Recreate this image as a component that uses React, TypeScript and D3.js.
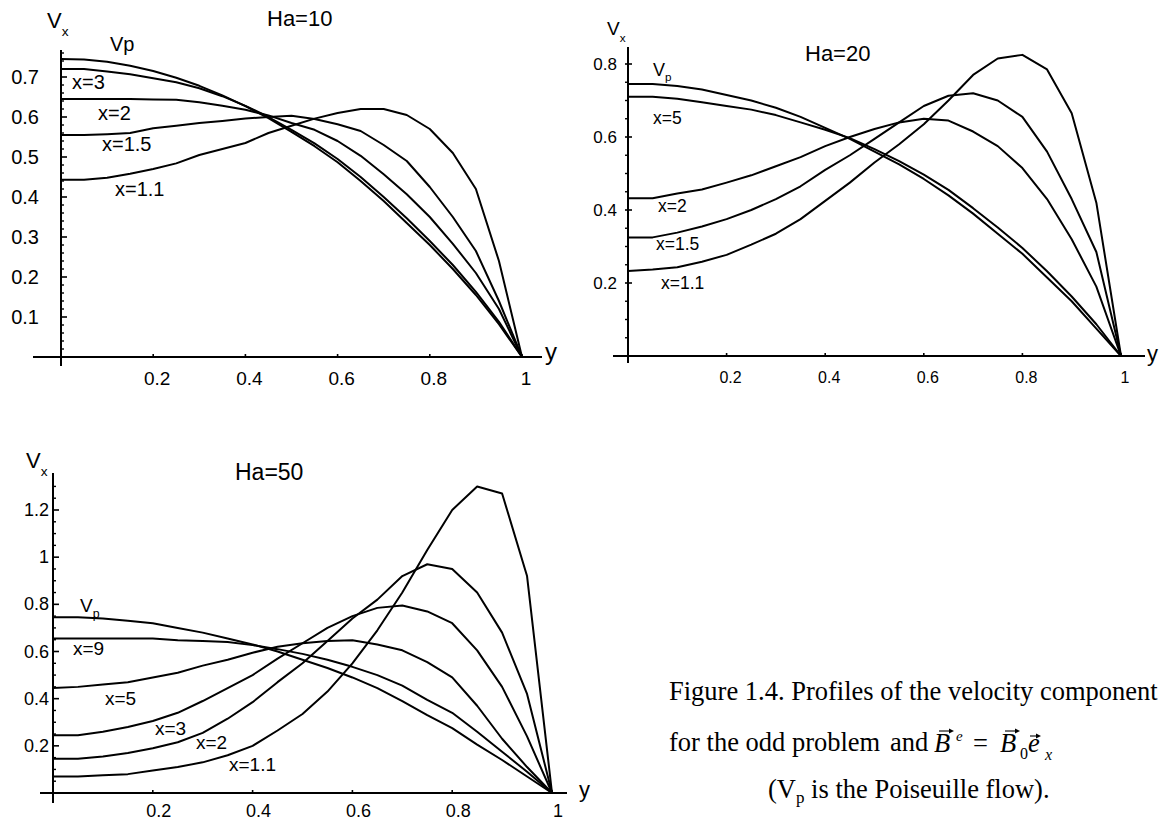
import React from "react";
import * as d3 from "d3";

// shared abscissa grid (y coordinate across the channel)
const yGrid = [0, 0.05, 0.1, 0.15, 0.2, 0.25, 0.3, 0.35, 0.4, 0.45, 0.5, 0.55, 0.6, 0.65, 0.7, 0.75, 0.8, 0.85, 0.9, 0.95, 1];

// ---- Ha = 10 ----
const ha10Vp = [0.745, 0.744, 0.738, 0.728, 0.715, 0.698, 0.678, 0.654, 0.627, 0.597, 0.563, 0.527, 0.487, 0.44, 0.39, 0.335, 0.28, 0.22, 0.155, 0.082, 0];
const ha10X3 = [0.72, 0.72, 0.714, 0.707, 0.697, 0.687, 0.672, 0.652, 0.628, 0.6, 0.568, 0.534, 0.495, 0.45, 0.4, 0.347, 0.29, 0.23, 0.163, 0.088, 0];
const ha10X2 = [0.645, 0.645, 0.645, 0.645, 0.644, 0.643, 0.637, 0.628, 0.618, 0.604, 0.585, 0.568, 0.54, 0.503, 0.457, 0.407, 0.35, 0.283, 0.21, 0.12, 0];
const ha10X15 = [0.555, 0.555, 0.557, 0.56, 0.572, 0.578, 0.585, 0.59, 0.596, 0.6, 0.603, 0.595, 0.582, 0.565, 0.53, 0.49, 0.425, 0.35, 0.265, 0.14, 0];
const ha10X11 = [0.443, 0.443, 0.448, 0.458, 0.47, 0.484, 0.505, 0.52, 0.535, 0.56, 0.578, 0.596, 0.61, 0.62, 0.62, 0.605, 0.57, 0.51, 0.42, 0.24, 0];
const ha10Names = ["Vp", "x=3", "x=2", "x=1.5", "x=1.1"];
const ha10YTicks = [0.1, 0.2, 0.3, 0.4, 0.5, 0.6, 0.7];
const ha10YLabels = ["0.1", "0.2", "0.3", "0.4", "0.5", "0.6", "0.7"];

// ---- Ha = 20 ----
const ha20Vp = [0.745, 0.745, 0.74, 0.73, 0.715, 0.7, 0.68, 0.655, 0.625, 0.595, 0.56, 0.525, 0.485, 0.44, 0.39, 0.335, 0.28, 0.215, 0.15, 0.075, 0];
const ha20X5 = [0.71, 0.71, 0.705, 0.695, 0.685, 0.675, 0.66, 0.64, 0.62, 0.597, 0.567, 0.534, 0.497, 0.455, 0.405, 0.352, 0.296, 0.232, 0.163, 0.087, 0];
const ha20X2 = [0.432, 0.432, 0.445, 0.456, 0.475, 0.495, 0.52, 0.545, 0.575, 0.6, 0.622, 0.64, 0.65, 0.645, 0.615, 0.575, 0.515, 0.43, 0.32, 0.19, 0];
const ha20X15 = [0.325, 0.325, 0.338, 0.355, 0.375, 0.4, 0.43, 0.465, 0.51, 0.55, 0.595, 0.64, 0.685, 0.713, 0.72, 0.7, 0.655, 0.56, 0.43, 0.285, 0];
const ha20X11 = [0.233, 0.237, 0.243, 0.258, 0.277, 0.305, 0.335, 0.375, 0.425, 0.475, 0.53, 0.58, 0.635, 0.7, 0.77, 0.815, 0.825, 0.785, 0.665, 0.42, 0];
const ha20Names = ["x=5", "x=2", "x=1.5", "x=1.1"];
const ha20YTicks = [0.2, 0.4, 0.6, 0.8];
const ha20YLabels = ["0.2", "0.4", "0.6", "0.8"];

// ---- Ha = 50 ----
const ha50Vp = [0.745, 0.745, 0.74, 0.73, 0.72, 0.7, 0.68, 0.655, 0.63, 0.6, 0.565, 0.53, 0.49, 0.445, 0.39, 0.33, 0.275, 0.205, 0.14, 0.07, 0];
const ha50X9 = [0.655, 0.655, 0.655, 0.655, 0.655, 0.648, 0.645, 0.64, 0.627, 0.61, 0.59, 0.565, 0.535, 0.5, 0.455, 0.395, 0.34, 0.26, 0.175, 0.09, 0];
const ha50X5 = [0.445, 0.45, 0.46, 0.47, 0.49, 0.51, 0.54, 0.565, 0.595, 0.62, 0.635, 0.645, 0.648, 0.63, 0.605, 0.555, 0.49, 0.37, 0.23, 0.11, 0];
const ha50X3 = [0.245, 0.245, 0.26, 0.28, 0.305, 0.34, 0.39, 0.445, 0.5, 0.57, 0.635, 0.7, 0.75, 0.785, 0.795, 0.77, 0.72, 0.605, 0.45, 0.24, 0];
const ha50X2 = [0.145, 0.145, 0.155, 0.17, 0.19, 0.215, 0.255, 0.315, 0.385, 0.47, 0.55, 0.645, 0.74, 0.82, 0.92, 0.97, 0.95, 0.85, 0.68, 0.42, 0];
const ha50X11 = [0.07, 0.07, 0.075, 0.08, 0.095, 0.11, 0.13, 0.16, 0.2, 0.265, 0.335, 0.43, 0.55, 0.69, 0.85, 1.03, 1.2, 1.3, 1.27, 0.92, 0];
const ha50Names = ["x=9", "x=5", "x=3", "x=2", "x=1.1"];
const ha50YTicks = [0.2, 0.4, 0.6, 0.8, 1, 1.2];
const ha50YLabels = ["0.2", "0.4", "0.6", "0.8", "1", "1.2"];

const xTickValues = [0.2, 0.4, 0.6, 0.8, 1];
const xTickLabels = ["0.2", "0.4", "0.6", "0.8", "1"];

const SANS = "'Liberation Sans', Arial, Helvetica, sans-serif";
const SERIF = "'Liberation Serif', 'Times New Roman', Times, serif";

type Lbl = { t: string; x: number; y: number };

type PanelCfg = {
  xr: [number, number];
  yd: [number, number];
  yr: [number, number];
  series: number[][];
  yTicks: number[];
  yLabels: string[];
  minorStep: number;
  minorMax: number;
  xAxis: [number, number];
  yAxis: [number, number];
  tickDir: "in" | "both";
  yLabelX: number;
  yLabelDy: number;
  yLabelFont: number;
  xLabelDx: number;
  xLabelY: number;
  xLabelFont: number;
  title: Lbl & { f: number };
  vx: { x: number; y: number; f: number };
  yName: { x: number; y: number; f: number };
  curveLabels: Lbl[];
  curveFont: number;
  vp: { x: number; y: number; f: number; sub: boolean };
};

function Panel({ c }: { c: PanelCfg }) {
  const x = d3.scaleLinear().domain([0, 1]).range(c.xr);
  const y = d3.scaleLinear().domain(c.yd).range(c.yr);
  const line = d3
    .line<number>()
    .x((_, i) => x(yGrid[i]))
    .y((d) => y(d));
  const x0 = x(0);
  const y0 = y(0);
  const minors = d3
    .range(c.minorStep, c.minorMax + 1e-9, c.minorStep)
    .filter((v) => !c.yTicks.some((t) => Math.abs(t - v) < 1e-6));
  const majL = c.tickDir === "in" ? 0 : -3;
  const majR = c.tickDir === "in" ? 6 : 4;
  const minL = c.tickDir === "in" ? 0 : -3;
  const minR = c.tickDir === "in" ? 3 : 1;
  return (
    <g>
      <line x1={c.xAxis[0]} x2={c.xAxis[1]} y1={y0} y2={y0} stroke="#000" strokeWidth={2} />
      <line x1={x0} x2={x0} y1={c.yAxis[0]} y2={c.yAxis[1]} stroke="#000" strokeWidth={2} />
      {c.yTicks.map((t) => (
        <line key={"M" + t} x1={x0 + majL} x2={x0 + majR} y1={y(t)} y2={y(t)} stroke="#000" strokeWidth={1.6} />
      ))}
      {minors.map((t) => (
        <line key={"m" + t} x1={x0 + minL} x2={x0 + minR} y1={y(t)} y2={y(t)} stroke="#000" strokeWidth={1.4} />
      ))}
      {xTickValues.map((t) => (
        <line key={"xt" + t} x1={x(t)} x2={x(t)} y1={y0} y2={y0 - 3} stroke="#000" strokeWidth={1.6} />
      ))}
      {c.yTicks.map((t, i) => (
        <text key={"yl" + t} x={c.yLabelX} y={y(t) + c.yLabelDy} textAnchor="end" fontSize={c.yLabelFont} fontFamily={SANS}>
          {c.yLabels[i]}
        </text>
      ))}
      {xTickValues.map((t, i) => (
        <text key={"xl" + t} x={x(t) + c.xLabelDx} y={c.xLabelY} textAnchor="middle" fontSize={c.xLabelFont} fontFamily={SANS}>
          {xTickLabels[i]}
        </text>
      ))}
      {c.series.map((s, i) => (
        <path key={"s" + i} d={line(s) || ""} fill="none" stroke="#000" strokeWidth={2} strokeLinejoin="round" />
      ))}
      <text x={c.title.x} y={c.title.y} fontSize={c.title.f} fontFamily={SANS}>
        {c.title.t}
      </text>
      <text x={c.vx.x} y={c.vx.y} fontSize={c.vx.f} fontFamily={SANS}>
        V
        <tspan fontSize={c.vx.f * 0.62} dy={c.vx.f * 0.35}>
          x
        </tspan>
      </text>
      <text x={c.yName.x} y={c.yName.y} fontSize={c.yName.f} fontFamily={SANS}>
        y
      </text>
      {c.vp.sub ? (
        <text x={c.vp.x} y={c.vp.y} fontSize={c.vp.f} fontFamily={SANS}>
          V
          <tspan fontSize={c.vp.f * 0.65} dy={c.vp.f * 0.3}>
            p
          </tspan>
        </text>
      ) : (
        <text x={c.vp.x} y={c.vp.y} fontSize={c.vp.f} fontFamily={SANS}>
          Vp
        </text>
      )}
      {c.curveLabels.map((l) => (
        <text key={l.t} x={l.x} y={l.y} fontSize={c.curveFont} fontFamily={SANS}>
          {l.t}
        </text>
      ))}
    </g>
  );
}

const panel1: PanelCfg = {
  xr: [61, 522],
  yd: [0, 0.7],
  yr: [357, 77],
  series: [ha10Vp, ha10X3, ha10X2, ha10X15, ha10X11],
  yTicks: ha10YTicks,
  yLabels: ha10YLabels,
  minorStep: 0.02,
  minorMax: 0.76,
  xAxis: [33, 542],
  yAxis: [50, 366],
  tickDir: "in",
  yLabelX: 39,
  yLabelDy: 7,
  yLabelFont: 20,
  xLabelDx: 4,
  xLabelY: 385,
  xLabelFont: 19,
  title: { t: "Ha=10", x: 267, y: 26, f: 22 },
  vx: { x: 47, y: 28, f: 22 },
  yName: { x: 545, y: 360, f: 24 },
  curveLabels: [
    { t: ha10Names[1], x: 72, y: 89 },
    { t: ha10Names[2], x: 98, y: 120 },
    { t: ha10Names[3], x: 102, y: 151 },
    { t: ha10Names[4], x: 115, y: 196 },
  ],
  curveFont: 20,
  vp: { x: 110, y: 51, f: 20, sub: false },
};

const panel2: PanelCfg = {
  xr: [628, 1121],
  yd: [0, 0.8],
  yr: [356, 64],
  series: [ha20Vp, ha20X5, ha20X2, ha20X15, ha20X11],
  yTicks: ha20YTicks,
  yLabels: ha20YLabels,
  minorStep: 0.05,
  minorMax: 0.84,
  xAxis: [613, 1145],
  yAxis: [47, 363],
  tickDir: "both",
  yLabelX: 617,
  yLabelDy: 6,
  yLabelFont: 17,
  xLabelDx: 4,
  xLabelY: 383,
  xLabelFont: 16,
  title: { t: "Ha=20", x: 805, y: 61, f: 22 },
  vx: { x: 607, y: 35, f: 19 },
  yName: { x: 1147, y: 361, f: 22 },
  curveLabels: [
    { t: ha20Names[0], x: 653, y: 124 },
    { t: ha20Names[1], x: 658, y: 212 },
    { t: ha20Names[2], x: 656, y: 250 },
    { t: ha20Names[3], x: 661, y: 289 },
  ],
  curveFont: 17.5,
  vp: { x: 653, y: 76, f: 18, sub: true },
};

const panel3: PanelCfg = {
  xr: [53, 552],
  yd: [0, 1.2],
  yr: [793, 510],
  series: [ha50Vp, ha50X9, ha50X5, ha50X3, ha50X2, ha50X11],
  yTicks: ha50YTicks,
  yLabels: ha50YLabels,
  minorStep: 0.05,
  minorMax: 1.33,
  xAxis: [40, 567],
  yAxis: [473, 803],
  tickDir: "in",
  yLabelX: 49,
  yLabelDy: 6,
  yLabelFont: 18,
  xLabelDx: 6,
  xLabelY: 817,
  xLabelFont: 18,
  title: { t: "Ha=50", x: 235, y: 480, f: 23 },
  vx: { x: 26, y: 468, f: 22 },
  yName: { x: 579, y: 797, f: 22 },
  curveLabels: [
    { t: ha50Names[0], x: 73, y: 655 },
    { t: ha50Names[1], x: 105, y: 705 },
    { t: ha50Names[2], x: 155, y: 735 },
    { t: ha50Names[3], x: 196, y: 749 },
    { t: ha50Names[4], x: 229, y: 771 },
  ],
  curveFont: 19,
  vp: { x: 80, y: 612, f: 19, sub: true },
};

function Arrow({ x1, x2, y }: { x1: number; x2: number; y: number }) {
  return (
    <g>
      <line x1={x1} x2={x2 - 2} y1={y} y2={y} stroke="#000" strokeWidth={1.1} />
      <path d={`M${x2},${y} L${x2 - 5},${y - 2.5} L${x2 - 5},${y + 2.5} Z`} fill="#000" />
    </g>
  );
}

function Caption() {
  const f = 26.5;
  return (
    <g fontFamily={SERIF} fontSize={f}>
      <text x={669} y={700}>Figure 1.4. Profiles of the velocity component</text>
      <text x={669} y={751}>for the odd problem</text>
      <text x={890} y={751}>and</text>
      <text x={934} y={752} fontStyle="italic">B</text>
      <text x={956} y={741} fontStyle="italic" fontSize={15}>e</text>
      <text x={973} y={752}>=</text>
      <text x={1000} y={752} fontStyle="italic">B</text>
      <text x={1020} y={759} fontSize={16}>0</text>
      <text x={1028} y={752} fontStyle="italic">e</text>
      <text x={1045} y={760} fontStyle="italic" fontSize={16}>x</text>
      <Arrow x1={939} x2={954} y={731} />
      <Arrow x1={1005} x2={1020} y={731} />
      <Arrow x1={1030} x2={1041} y={736} />
      <text x={768} y={798}>
        (V<tspan fontSize={17} dy={5}>p</tspan>
        <tspan dy={-5}> is the Poiseuille flow).</tspan>
      </text>
    </g>
  );
}

export default function App() {
  return (
    <svg
      width={1167}
      height={823}
      viewBox="0 0 1167 823"
      style={{ position: "absolute", left: 0, top: 0, background: "#fff" }}
    >
      <rect x={0} y={0} width={1167} height={823} fill="#fff" />
      <Panel c={panel1} />
      <Panel c={panel2} />
      <Panel c={panel3} />
      <Caption />
    </svg>
  );
}
